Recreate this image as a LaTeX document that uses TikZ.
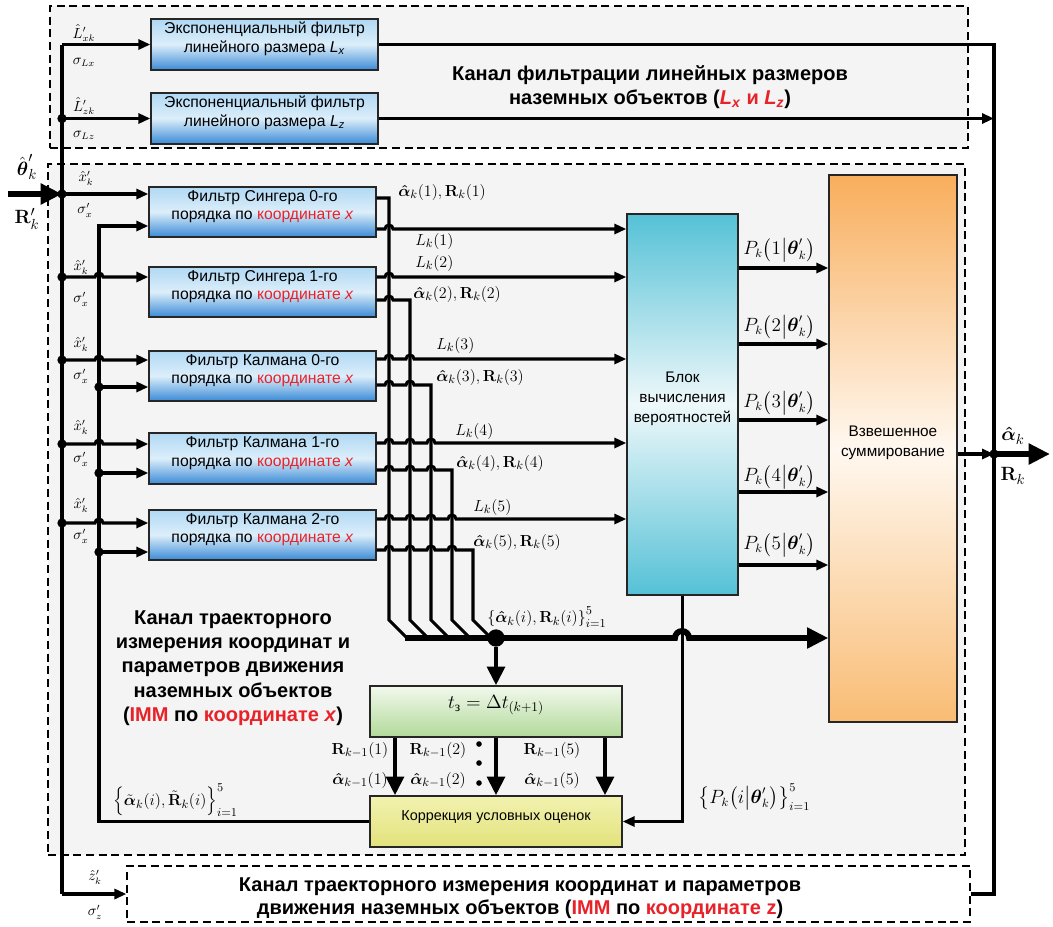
\documentclass[tikz,border=0pt]{standalone}
\usepackage[no-math]{fontspec}
\setmainfont{Liberation Sans}
\newfontfamily\serifcyr{Liberation Serif}
\usepackage{amsmath}
\usetikzlibrary{arrows.meta,fit}
\definecolor{bgc}{HTML}{F4F4F4}
\definecolor{redt}{HTML}{E82229}
\definecolor{blueT}{HTML}{B0D8F4}
\definecolor{blueM}{HTML}{DCEEFA}
\definecolor{blueB}{HTML}{3A8AD6}
\definecolor{cyanE}{HTML}{55C1D6}
\definecolor{cyanM}{HTML}{EEF8FA}
\definecolor{oraT}{HTML}{F8AE5C}
\definecolor{oraM}{HTML}{FFF8F0}
\definecolor{oraB}{HTML}{F9BC74}
\definecolor{grnT}{HTML}{F2F9EC}
\definecolor{grnB}{HTML}{B2D99A}
\definecolor{yelT}{HTML}{F2F2B0}
\definecolor{yelB}{HTML}{E2E27C}
\newcommand\hp[2]{-- ({#1-4},#2) arc[start angle=180,end angle=360,radius=4]}
\newcommand\hpT[2]{-- ({#1-7},#2) arc[start angle=180,end angle=360,radius=7]}
\newcommand\rt[1]{\textcolor{redt}{#1}}
\newcommand\ah{\boldsymbol{\hat{\alpha}}}
\newcommand\bR{\mathbf{R}}
\newcommand\bth{\boldsymbol{\theta}}
\begin{document}
\begin{tikzpicture}[x=0.75pt,y=-0.75pt,
  dbox/.style={draw, line width=0.9pt, dash pattern=on 6pt off 3.5pt, fill=bgc, inner sep=0pt},
  filt/.style={draw=black!85, line width=1pt, top color=blueT, bottom color=blueB, middle color=blueM, inner sep=0pt, align=center, font=\fontsize{11.8}{14}\selectfont},
  blk/.style={draw=black!85, line width=1pt, inner sep=0pt, align=center, font=\fontsize{11.5}{15}\selectfont},
  ln/.style={line width=2.3pt},
  arr/.style={line width=2.3pt, -{Triangle[length=9pt,width=7.5pt]}},
  tarr/.style={line width=4.4pt, -{Triangle[length=16pt,width=15pt]}},
  varr/.style={line width=3.6pt, -{Triangle[length=14pt,width=13pt]}},
  jdot/.style={circle, fill, inner sep=0pt, minimum size=7pt},
  lbl/.style={font=\fontsize{12.5}{14}\selectfont, inner sep=0pt},
  plbl/.style={font=\fontsize{13.5}{15}\selectfont, inner sep=0pt},
  slbl/.style={font=\fontsize{10.5}{12}\selectfont, inner sep=0pt},
  ttl/.style={font=\bfseries\fontsize{15}{18.5}\selectfont, align=center, inner sep=0pt}
]
\useasboundingbox (0,0) rectangle (1053,926);
% containers
\node[dbox, fit={(50,6)(968,148)}] (topbox) {};
\node[dbox, fit={(48,164)(965,855)}] (mainbox) {};
\node[dbox, fill=white, fit={(127,866)(970,922)}] (zbox) {};
% titles
\node[ttl] (ttop) at (650,87) {Канал фильтрации линейных размеров\\наземных объектов (\rt{\textit{L}\textsubscript{\textit{x}} и \textit{L}\textsubscript{\textit{z}}})};
\node[ttl, font=\bfseries\fontsize{15}{18.3}\selectfont] (tmain) at (233,668) {Канал траекторного\\измерения координат и\\параметров движения\\наземных объектов\\(\rt{IMM} по \rt{координате \textit{x}})};
\node[ttl, font=\bfseries\fontsize{15}{17.5}\selectfont] (tz) at (520,898) {Канал траекторного измерения координат и параметров\\движения наземных объектов (\rt{IMM} по \rt{координате z})};
% blocks
\node[filt, fit={(151,19)(378,70)}] (lx) {Экспоненциальный фильтр\\линейного размера \textit{L}\textsubscript{\textit{x}}};
\node[filt, fit={(151,93)(378,144)}] (lz) {Экспоненциальный фильтр\\линейного размера \textit{L}\textsubscript{\textit{z}}};
\node[filt, fit={(149,187)(376,237)}] (f1) {Фильтр Сингера 0-го\\порядка по \rt{координате \textit{x}}};
\node[filt, fit={(149,267)(376,317)}] (f2) {Фильтр Сингера 1-го\\порядка по \rt{координате \textit{x}}};
\node[filt, fit={(149,351)(376,401)}] (f3) {Фильтр Калмана 0-го\\порядка по \rt{координате \textit{x}}};
\node[filt, fit={(149,433)(376,484)}] (f4) {Фильтр Калмана 1-го\\порядка по \rt{координате \textit{x}}};
\node[filt, fit={(149,510)(376,560)}] (f5) {Фильтр Калмана 2-го\\порядка по \rt{координате \textit{x}}};
\node[blk, fit={(627,214)(738,595)}, top color=cyanE, bottom color=cyanE, middle color=cyanM] (prob) {Блок\\вычисления\\вероятностей};
\node[blk, fit={(829,175)(957,722)}, top color=oraT, bottom color=oraB, middle color=oraM] (wsum) {Взвешенное\\суммирование};
\node[blk, fit={(370,686)(622,737)}, top color=grnT, bottom color=grnB, font=\fontsize{14.5}{16}\selectfont] (delay) {$t_{\text{\serifcyr з}}=\Delta t_{(k+1)}$};
\node[blk, fit={(370,796)(622,847)}, top color=yelT, bottom color=yelB, font=\fontsize{10.8}{12}\selectfont] (corr) {Коррекция условных оценок};
% coordinates
\coordinate (inp) at (8,194);
\coordinate (b0) at (62,194);
\coordinate (rb) at (994,454);
\coordinate (outp) at (1050,454);
\coordinate (bs) at (405,638);
% left bus
\draw[ln] (lx.west -| b0) -- (zbox.west -| b0);
\draw[arr] (lx.west -| b0) -- (lx.west);
\draw[arr] (lz.west -| b0) -- (lz.west);
\draw[arr] (zbox.west -| b0) -- (zbox.west);
\draw[tarr] (inp) -- (b0);
\draw[arr] (b0) -- (f1.west |- b0);
\draw[arr] (62,277) \hp{99}{277} -- (f2.west |- 0,277);
\draw[arr] (62,360) \hp{99}{360} -- (f3.west |- 0,360);
\draw[arr] (62,444) \hp{99}{444} -- (f4.west |- 0,444);
\draw[arr] (62,523) \hp{99}{523} -- (f5.west |- 0,523);
% sigma / feedback bus
\draw[arr] (corr.west) -| (99,226) -- (f1.west |- 0,226);
\draw[arr] (99,387) -- (f3.west |- 0,387);
\draw[arr] (99,473) -- (f4.west |- 0,473);
\draw[arr] (99,552) -- (f5.west |- 0,552);
% filter outputs
\draw[ln] (f1.east |- 0,198) -| (389,620) -- (407,638);
\draw[arr] (f1.east |- 0,229) \hp{389}{229} -- (prob.west |- 0,229);
\draw[arr] (f2.east |- 0,277) \hp{389}{277} -- (prob.west |- 0,277);
\draw[ln] (f2.east |- 0,300) \hp{389}{300} -| (410,620) -- (428,638);
\draw[arr] (f3.east |- 0,359) \hp{389}{359} \hp{410}{359} -- (prob.west |- 0,359);
\draw[ln] (f3.east |- 0,385) \hp{389}{385} \hp{410}{385} -| (431,620) -- (449,638);
\draw[arr] (f4.east |- 0,443) \hp{389}{443} \hp{410}{443} \hp{431}{443} -- (prob.west |- 0,443);
\draw[ln] (f4.east |- 0,470) \hp{389}{470} \hp{410}{470} \hp{431}{470} -| (452,620) -- (470,638);
\draw[arr] (f5.east |- 0,519) \hp{389}{519} \hp{410}{519} \hp{431}{519} \hp{452}{519} -- (prob.west |- 0,519);
\draw[ln] (f5.east |- 0,550) \hp{389}{550} \hp{410}{550} \hp{431}{550} \hp{452}{550} -| (473,620) -- (491,638);
% thick bus
\draw[tarr] (bs) \hpT{682}{638} -- (wsum.west |- bs);
\node[jdot, minimum size=13pt] (jb) at (496,638) {};
\draw[varr] (jb) -- (delay.north);
\draw[varr] (delay.south -| 395,0) -- (corr.north -| 395,0);
\draw[varr] (delay.south -| 496,0) -- (corr.north -| 496,0);
\draw[varr] (delay.south -| 605,0) -- (corr.north -| 605,0);
\fill (479,744) circle (2.8) (479,763) circle (2.8) (479,783) circle (2.8);
% probabilities
\draw[arr] (prob.south) |- (corr.east);
\foreach \y in {268,344,420,492,565} \draw[arr] (prob.east |- 0,\y) -- (wsum.west |- 0,\y);
% right side
\draw[ln] (lx.east) -| (zbox.east -| rb) -- (zbox.east);
\draw[arr] (lz.east) -- (lz.east -| rb);
\draw[arr] (wsum.east |- rb) -- (rb);
\draw[tarr] (rb) -- (outp);
% junction dots
\node[jdot] at (lz.west -| b0) {};
\node[jdot] at (b0) {};
\node[jdot] at (62,277) {};
\node[jdot] at (62,360) {};
\node[jdot] at (62,444) {};
\node[jdot] at (62,523) {};
\node[jdot] at (99,387) {};
\node[jdot] at (99,473) {};
\node[jdot] at (99,552) {};
\node[jdot] at (rb) {};
% input labels
\node[slbl] at (84,33) {$\hat{L}'_{xk}$};
\node[slbl] at (84,62) {$\sigma_{Lx}$};
\node[slbl] at (84,106) {$\hat{L}'_{zk}$};
\node[slbl] at (84,135) {$\sigma_{Lz}$};
\node[font=\fontsize{15.5}{17}\selectfont, inner sep=0pt] at (27,167) {$\hat{\bth}'_k$};
\node[font=\fontsize{15.5}{17}\selectfont, inner sep=0pt] at (27,219) {$\bR'_k$};
\node[slbl] at (86,178) {$\hat{x}'_k$};
\node[slbl] at (85,210) {$\sigma'_x$};
\node[slbl] at (81,267) {$\hat{x}'_k$};
\node[slbl] at (81,299) {$\sigma'_x$};
\node[slbl] at (81,344) {$\hat{x}'_k$};
\node[slbl] at (81,376) {$\sigma'_x$};
\node[slbl] at (81,427) {$\hat{x}'_k$};
\node[slbl] at (81,459) {$\sigma'_x$};
\node[slbl] at (81,505) {$\hat{x}'_k$};
\node[slbl] at (81,536) {$\sigma'_x$};
\node[slbl] at (95,877) {$\hat{z}'_k$};
\node[slbl] at (95,912) {$\sigma'_z$};
% filter output labels
\node[lbl, anchor=west] at (398,192) {$\ah_k(1),\bR_k(1)$};
\node[lbl, anchor=west] at (415,241) {$L_k(1)$};
\node[lbl, anchor=west] at (415,263) {$L_k(2)$};
\node[lbl, anchor=west] at (413,294) {$\ah_k(2),\bR_k(2)$};
\node[lbl, anchor=west] at (436,345) {$L_k(3)$};
\node[lbl, anchor=west] at (436,377) {$\ah_k(3),\bR_k(3)$};
\node[lbl, anchor=west] at (455,431) {$L_k(4)$};
\node[lbl, anchor=west] at (456,463) {$\ah_k(4),\bR_k(4)$};
\node[lbl, anchor=west] at (473,507) {$L_k(5)$};
\node[lbl, anchor=west] at (473,542) {$\ah_k(5),\bR_k(5)$};
\node[lbl, anchor=west] at (487,617) {$\left\{\ah_k(i),\bR_k(i)\right\}_{i=1}^{5}$};
% probability labels
\node[plbl, anchor=west] at (743,250) {$P_k\!\left(1\middle|\bth'_k\right)$};
\node[plbl, anchor=west] at (743,327) {$P_k\!\left(2\middle|\bth'_k\right)$};
\node[plbl, anchor=west] at (743,403) {$P_k\!\left(3\middle|\bth'_k\right)$};
\node[plbl, anchor=west] at (743,477) {$P_k\!\left(4\middle|\bth'_k\right)$};
\node[plbl, anchor=west] at (743,545) {$P_k\!\left(5\middle|\bth'_k\right)$};
\node[plbl, anchor=west] at (698,797) {$\left\{P_k\!\left(i\middle|\bth'_k\right)\right\}_{i=1}^{5}$};
% output labels
\node[font=\fontsize{15.5}{17}\selectfont, inner sep=0pt] at (1013,436) {$\ah_k$};
\node[font=\fontsize{15.5}{17}\selectfont, inner sep=0pt] at (1013,476) {$\bR_k$};
% correction labels
\node[lbl] at (360,750) {$\bR_{k-1}(1)$};
\node[lbl] at (360,780) {$\ah_{k-1}(1)$};
\node[lbl] at (438,750) {$\bR_{k-1}(2)$};
\node[lbl] at (438,780) {$\ah_{k-1}(2)$};
\node[lbl] at (552,750) {$\bR_{k-1}(5)$};
\node[lbl] at (552,780) {$\ah_{k-1}(5)$};
\node[lbl, anchor=west] at (113,800) {$\left\{\tilde{\boldsymbol{\alpha}}_k(i),\tilde{\bR}_k(i)\right\}_{i=1}^{5}$};
\end{tikzpicture}
\end{document}
